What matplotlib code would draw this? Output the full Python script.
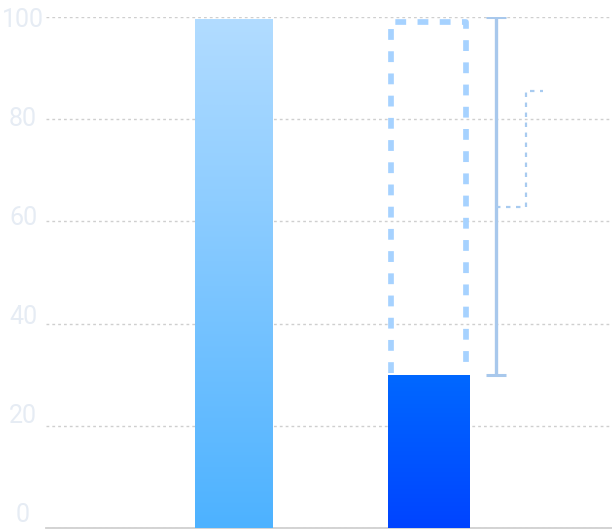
import numpy as np
import matplotlib.pyplot as plt
from matplotlib.patches import Rectangle
from matplotlib.colors import LinearSegmentedColormap

# data
positions = [0, 1]
values = [99.6, 30]
target = 99           # dashed outline top above the second bar
range_low, range_high = 30, 100     # solid bracket
step_low, step_high = 62.8, 85.5    # dotted step
y_ticks = [0, 20, 40, 60, 80, 100]
tick_labels = ["0", "20", "40", "60", "80", "100"]

fig = plt.figure(figsize=(6.12, 5.30), dpi=100)
ax = fig.add_axes([46 / 612, 2.3 / 530, 566 / 612, 510.4 / 530])
ax.set_xlim(-0.966, 1.944)
ax.set_ylim(0, 100)

# grid + axis line
ax.set_yticks(y_ticks)
ax.tick_params(axis="y", length=0, labelleft=False)
ax.set_xticks([])
ax.yaxis.grid(True, color="#cfcfcf", lw=1.0, ls=(0, (2, 2.2)))
ax.set_axisbelow(True)
for s in ["top", "right", "left"]:
    ax.spines[s].set_visible(False)
ax.spines["bottom"].set_color("#d0d0d0")
ax.spines["bottom"].set_linewidth(1.3)

# the tick labels sit on a slightly squeezed scale, put them on a twin axis
lab = ax.twinx()
lab.set_ylim(-2.97, 100.14)
lab.yaxis.tick_left()
lab.set_yticks(y_ticks)
lab.set_yticklabels(tick_labels, family="Roboto", fontsize=18, color="#e6ecf4")
lab.tick_params(axis="y", length=0, pad=16.5)
for t in lab.get_yticklabels():
    t.set_horizontalalignment("center")
for s in lab.spines.values():
    s.set_visible(False)

# gradient bars
cmaps = [
    LinearSegmentedColormap.from_list("light", ["#4db2ff", "#b2dcff"]),
    LinearSegmentedColormap.from_list("dark", ["#0044ff", "#0068ff"]),
]
widths = [0.40, 0.418]
grad = np.linspace(0, 1, 256).reshape(-1, 1)
for x, v, w, cm in zip(positions, values, widths, cmaps):
    r = Rectangle((x - w / 2, 0), w, v, facecolor="none", edgecolor="none")
    ax.add_patch(r)
    im = ax.imshow(grad, cmap=cm, origin="lower", aspect="auto",
                   extent=[x - w / 2, x + w / 2, 0, v], zorder=3)
    im.set_clip_path(r)
ax.set_xlim(-0.966, 1.944)
ax.set_ylim(0, 100)

# dashed outline from the second bar up to the target
hw = 0.387 / 2
x2 = positions[1]
ax.plot([x2 - hw, x2 - hw, x2 + hw, x2 + hw],
        [values[1] + 0.4, target, target, values[1] + 0.4],
        color="#a6d2ff", lw=4.1, ls=(0, (1.9, 2.0)), solid_capstyle="butt",
        dash_capstyle="butt", zorder=2)

# solid bracket
bx = 1.346
ax.errorbar([bx], [(range_low + range_high) / 2],
            yerr=[[(range_high - range_low) / 2], [(range_high - range_low) / 2]],
            fmt="none", ecolor="#a8c8ec", elinewidth=2.4, capsize=7.5,
            capthick=2.2, zorder=4)

# dotted step
ax.plot([bx, 1.502, 1.502, 1.589], [step_low, step_low, step_high, step_high],
        color="#a8cbf0", lw=1.6, ls=(0, (2, 2.5)), zorder=4)

fig.savefig("out.png", dpi=100)
